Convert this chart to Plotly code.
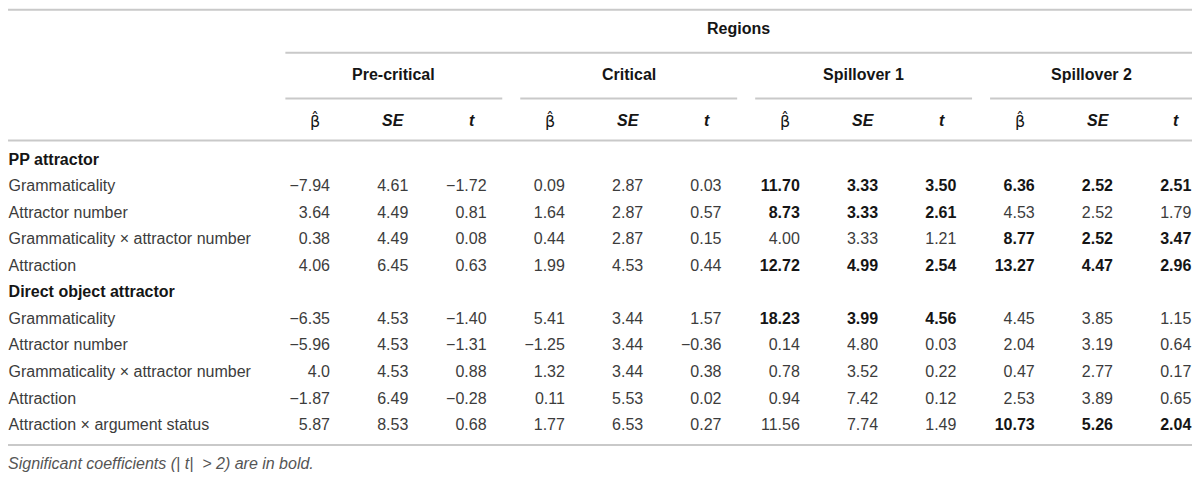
import plotly.graph_objects as go

# table content
regions = ["Pre-critical", "Critical", "Spillover 1", "Spillover 2"]
stats = ["β̂", "<i>SE</i>", "<i>t</i>"]
sections = ["PP attractor", "Direct object attractor"]
pp_rows = ["Grammaticality", "Attractor number", "Grammaticality × attractor number", "Attraction"]
do_rows = ["Grammaticality", "Attractor number", "Grammaticality × attractor number", "Attraction",
           "Attraction × argument status"]

pre_beta = ["-7.94", "3.64", "0.38", "4.06", "-6.35", "-5.96", "4.0", "-1.87", "5.87"]
pre_se = ["4.61", "4.49", "4.49", "6.45", "4.53", "4.53", "4.53", "6.49", "8.53"]
pre_t = ["-1.72", "0.81", "0.08", "0.63", "-1.40", "-1.31", "0.88", "-0.28", "0.68"]

crit_beta = ["0.09", "1.64", "0.44", "1.99", "5.41", "-1.25", "1.32", "0.11", "1.77"]
crit_se = ["2.87", "2.87", "2.87", "4.53", "3.44", "3.44", "3.44", "5.53", "6.53"]
crit_t = ["0.03", "0.57", "0.15", "0.44", "1.57", "-0.36", "0.38", "0.02", "0.27"]

sp1_beta = ["11.70", "8.73", "4.00", "12.72", "18.23", "0.14", "0.78", "0.94", "11.56"]
sp1_se = ["3.33", "3.33", "3.33", "4.99", "3.99", "4.80", "3.52", "7.42", "7.74"]
sp1_t = ["3.50", "2.61", "1.21", "2.54", "4.56", "0.03", "0.22", "0.12", "1.49"]

sp2_beta = ["6.36", "4.53", "8.77", "13.27", "4.45", "2.04", "0.47", "2.53", "10.73"]
sp2_se = ["2.52", "2.52", "2.52", "4.47", "3.85", "3.19", "2.77", "3.89", "5.26"]
sp2_t = ["2.51", "1.79", "3.47", "2.96", "1.15", "0.64", "0.17", "0.65", "2.04"]

footnote = "Significant coefficients (| <i>t</i>|  > 2) are in bold."

blocks = [(pre_beta, pre_se, pre_t), (crit_beta, crit_se, crit_t),
          (sp1_beta, sp1_se, sp1_t), (sp2_beta, sp2_se, sp2_t)]

FONT = "Liberation Sans, Arial, sans-serif"
TXT = "#3c3c3c"
DARK = "#151515"
RULE = "#c9c9c9"
SIZE = 16

# row layout: section headings at 0 and 5, data rows in between
data_y = [1, 2, 3, 4, 6, 7, 8, 9, 10]
section_y = [0, 5]
label_x = -3.105
x_left, x_right = -3.112, 12.01

fig = go.Figure()

# row labels
fig.add_trace(go.Scatter(
    x=[label_x] * len(data_y), y=data_y, mode="text",
    text=pp_rows + do_rows, textposition="middle right",
    textfont=dict(family=FONT, size=SIZE, color=TXT), hoverinfo="skip"))
fig.add_trace(go.Scatter(
    x=[label_x] * 2, y=section_y, mode="text",
    text=["<b>%s</b>" % s for s in sections], textposition="middle right",
    textfont=dict(family=FONT, size=SIZE, color=DARK), hoverinfo="skip"))

# numeric cells, bold where |t| > 2
col = 1
for beta, se, t in blocks:
    sig = [abs(float(v)) > 2 for v in t]
    for vals in (beta, se, t):
        txt = []
        for v, s in zip(vals, sig):
            v = v.replace("-", "\u2212")
            txt.append("<b>%s</b>" % v if s else v)
        fig.add_trace(go.Scatter(
            x=[col] * len(vals), y=data_y, mode="text", text=txt,
            textposition="middle left",
            textfont=dict(family=FONT, size=SIZE, color=[DARK if s else TXT for s in sig]),
            hoverinfo="skip"))
        col += 1

ann = []
shapes = []


def rule(x0, x1, y):
    shapes.append(dict(type="line", xref="x", yref="y", x0=x0, x1=x1, y0=y, y1=y,
                       line=dict(color=RULE, width=2)))


def head(x, y, text, family=FONT):
    ann.append(dict(x=x, y=y, text=text, xref="x", yref="y", showarrow=False,
                    xanchor="center", yanchor="middle",
                    font=dict(family=family, size=SIZE, color=DARK)))


rule(x_left, x_right, -5.68)
rule(0.43, x_right, -4.06)
rule(x_left, x_right, -0.75)
rule(x_left, x_right, 10.71)

head((0.43 + x_right) / 2, -4.96, "<b>Regions</b>")
for g, name in enumerate(regions):
    x0 = 3 * g + 0.43
    x1 = min(3 * g + 3.2, x_right)
    rule(x0, x1, -2.33)
    head((x0 + x1) / 2, -3.23, "<b>%s</b>" % name)
    for k, s in enumerate(stats):
        fam = "DejaVu Sans" if k == 0 else FONT
        head(3 * g + k + 1 - 0.19, -1.5, s if k == 0 else "<b>%s</b>" % s, fam)

ann.append(dict(x=label_x, y=11.39, xref="x", yref="y", showarrow=False, xanchor="left",
                yanchor="middle", xshift=-3, text="<i>%s</i>" % footnote,
                font=dict(family=FONT, size=SIZE, color="#555555")))

# page body has an 8px margin, so the figure is 8px smaller than the window
fig.update_layout(
    width=1192, height=472,
    margin=dict(l=0, r=0, t=0, b=0),
    paper_bgcolor="white", plot_bgcolor="white",
    showlegend=False,
    xaxis=dict(range=[-3.1124, 12.111], visible=False, fixedrange=True),
    yaxis=dict(range=[12.029, -5.742], visible=False, fixedrange=True),
    annotations=ann, shapes=shapes,
)

fig.write_html("out.html")
